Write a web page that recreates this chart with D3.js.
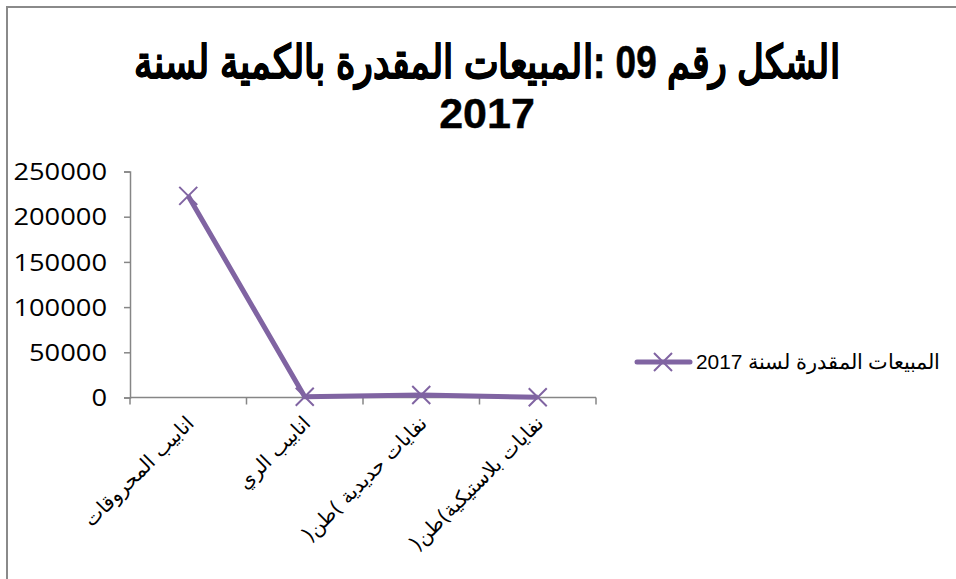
<!DOCTYPE html>
<html><head><meta charset="utf-8">
<script src="https://cdn.jsdelivr.net/npm/d3@7"></script>
<style>html,body{margin:0;padding:0;background:#fff;overflow:hidden}</style>
</head><body><svg id="c" width="956" height="579"></svg>
<script>
const categories = ["انابيب المحروقات", "انابيب الري", "نفايات حديدية )طن(", "نفايات بلاستيكية)طن("];
const values = [223000, 800, 2800, 300];
const yTicks = [0, 50000, 100000, 150000, 200000, 250000];
const seriesName = "المبيعات المقدرة لسنة 2017";
const titleLines = ["الشكل رقم 09 :المبيعات المقدرة بالكمية لسنة", "2017"];

const svg = d3.select("#c");
const color = "#8064A2", axisColor = "#868686";

svg.append("rect").attr("x",7).attr("y",7).attr("width",1100).attr("height",700)
  .attr("fill","#fff").attr("stroke","#8a8a8a").attr("stroke-width",2);

// title
svg.append("text").attr("x",487).attr("y",78).attr("text-anchor","middle")
  .attr("direction","rtl").attr("textLength",706).attr("lengthAdjust","spacingAndGlyphs")
  .attr("stroke","#000").attr("stroke-width",0.6)
  .style("font-family","'Liberation Sans', Arial, sans-serif").style("font-weight","bold")
  .style("font-size","46px").text(titleLines[0]);
svg.append("text").attr("x",487).attr("y",128).attr("text-anchor","middle")
  .attr("stroke","#000").attr("stroke-width",0.4)
  .style("font-family","'Liberation Sans', Arial, sans-serif").style("font-weight","bold")
  .style("font-size","43px").text(titleLines[1]);

const x = d3.scaleBand().domain(categories).range([130, 596]).padding(0);
const y = d3.scaleLinear().domain([0, 250000]).range([397.5, 171.5]);

// y axis
const ya = svg.append("g").attr("transform","translate(130,0)")
  .call(d3.axisLeft(y).tickValues(yTicks).tickSize(6).tickPadding(17).tickFormat(d3.format("d")));
ya.select(".domain").attr("stroke",axisColor).attr("stroke-width",1.5);
ya.selectAll(".tick line").attr("stroke",axisColor).attr("stroke-width",1.5);
ya.selectAll(".tick text").style("font-family","'Open Sans', sans-serif").style("font-size","23px")
  .attr("fill","#000").attr("dy","0.36em")
  .attr("textLength", d => String(d).length*15.6).attr("lengthAdjust","spacingAndGlyphs");

// x axis
const xa = svg.append("g").attr("transform","translate(0,397.5)");
xa.append("line").attr("x1",130).attr("x2",596).attr("stroke",axisColor).attr("stroke-width",1.5);
const bounds = categories.map(c => x(c)).concat([x(categories[categories.length-1]) + x.bandwidth()]);
xa.selectAll("line.t").data(bounds).join("line").attr("class","t")
  .attr("x1",d=>d).attr("x2",d=>d).attr("y1",0).attr("y2",7)
  .attr("stroke",axisColor).attr("stroke-width",1.5);
xa.selectAll("text").data(categories).join("text")
  .attr("transform", d => `translate(${x(d)+x.bandwidth()/2+2},${22}) rotate(-45)`)
  .attr("direction","rtl").attr("text-anchor","start")
  .style("font-family","'DejaVu Sans', sans-serif").style("font-size","20px")
  .attr("dy","0.35em").text(d=>d);

// line
const cx = d => x(d) + x.bandwidth()/2;
const line = d3.line().x((d,i)=>cx(categories[i])).y(d=>y(d));
svg.append("path").datum(values).attr("d",line).attr("fill","none")
  .attr("stroke",color).attr("stroke-width",5).attr("stroke-linejoin","round");

const s = 9;
const mk = svg.append("g");
values.forEach((v,i)=>{
  const px = cx(categories[i]), py = y(v);
  mk.append("path").attr("d",`M${px-s},${py-s}L${px+s},${py+s}M${px-s},${py+s}L${px+s},${py-s}`)
    .attr("stroke",color).attr("stroke-width",2).attr("fill","none");
});

// legend
const ly = 362;
svg.append("line").attr("x1",637).attr("x2",690).attr("y1",ly).attr("y2",ly)
  .attr("stroke",color).attr("stroke-width",5).attr("stroke-linecap","round");
svg.append("path").attr("d",`M${663-s},${ly-s}L${663+s},${ly+s}M${663-s},${ly+s}L${663+s},${ly-s}`)
  .attr("stroke",color).attr("stroke-width",2);
svg.append("text").attr("x",940).attr("y",ly).attr("dy","0.35em")
  .attr("direction","rtl").attr("text-anchor","start")
  .attr("textLength",244).attr("lengthAdjust","spacingAndGlyphs")
  .style("font-family","'Liberation Sans', Arial, sans-serif").style("font-size","21px")
  .text(seriesName);
</script></body></html>
